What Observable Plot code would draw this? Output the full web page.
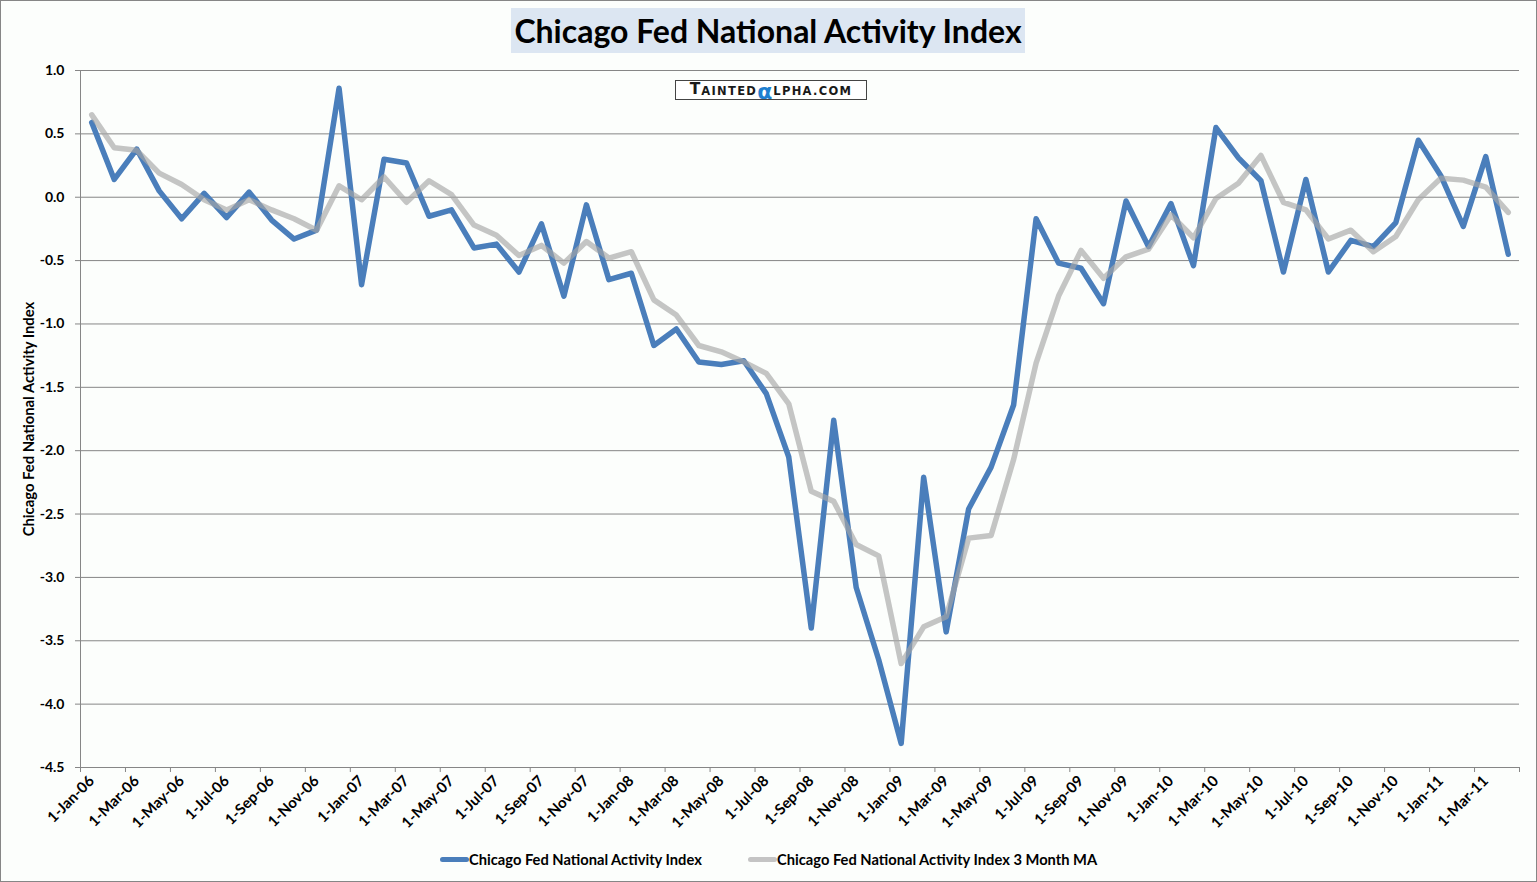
<!DOCTYPE html>
<html><head><meta charset="utf-8">
<script src="https://cdn.jsdelivr.net/npm/d3@7"></script>
<script src="https://cdn.jsdelivr.net/npm/@observablehq/plot@0.6"></script>
<style>
body{margin:0;background:#fff;}
#wrap{position:relative;width:1537px;height:882px;background:#FCFEFC;overflow:hidden;font-family:Lato,"Open Sans",sans-serif;}
#chart{position:absolute;left:0;top:0;}
#frame{position:absolute;left:0;top:0;width:1537px;height:882px;box-sizing:border-box;border:1px solid #868686;pointer-events:none;}
#title{position:absolute;left:511px;top:8px;width:514px;height:45px;background:#DCE6F2;font-weight:bold;font-size:32px;line-height:46px;text-align:center;color:#000;white-space:nowrap;}
#logo{position:absolute;left:675px;top:80px;width:192px;height:20px;box-sizing:border-box;border:1px solid #444;background:#fff;display:flex;align-items:flex-end;justify-content:center;font-family:"DejaVu Sans",sans-serif;font-weight:bold;color:#1a1a1a;white-space:nowrap;line-height:1;padding-bottom:2px;}
#logo .c{font-size:15.5px;letter-spacing:1px;}
#logo .s{font-size:11.5px;letter-spacing:1.3px;}
#logo .a{font-size:22px;font-weight:bold;color:#1E7FD0;margin:0 1px -3px 0;line-height:16px;}
#ytitle{position:absolute;left:28px;top:419px;transform:translate(-50%,-50%) rotate(-90deg);font-weight:bold;font-size:14.8px;white-space:nowrap;color:#000;}
.leg{position:absolute;top:850px;height:18px;display:flex;align-items:center;font-weight:bold;font-size:14.7px;color:#000;white-space:nowrap;}
.leg .sw{width:29px;height:5px;border-radius:3px;margin-right:0;}
</style></head>
<body>
<div id="wrap">
  <div id="chart"></div>
  <div id="title">Chicago Fed National Activity Index</div>
  <div id="logo"><span class="c">T</span><span class="s">AINTED</span><span class="a">α</span><span class="s">LPHA.COM</span></div>
  <div id="ytitle">Chicago Fed National Activity Index</div>
  <div class="leg" style="left:440px"><span class="sw" style="background:#4A7EBB"></span>Chicago Fed National Activity Index</div>
  <div class="leg" style="left:748px"><span class="sw" style="background:#C4C4C4"></span>Chicago Fed National Activity Index 3 Month MA</div>
  <div id="frame"></div>
</div>
<script>
const months = ["Jan-06","Feb-06","Mar-06","Apr-06","May-06","Jun-06","Jul-06","Aug-06","Sep-06","Oct-06","Nov-06","Dec-06",
"Jan-07","Feb-07","Mar-07","Apr-07","May-07","Jun-07","Jul-07","Aug-07","Sep-07","Oct-07","Nov-07","Dec-07",
"Jan-08","Feb-08","Mar-08","Apr-08","May-08","Jun-08","Jul-08","Aug-08","Sep-08","Oct-08","Nov-08","Dec-08",
"Jan-09","Feb-09","Mar-09","Apr-09","May-09","Jun-09","Jul-09","Aug-09","Sep-09","Oct-09","Nov-09","Dec-09",
"Jan-10","Feb-10","Mar-10","Apr-10","May-10","Jun-10","Jul-10","Aug-10","Sep-10","Oct-10","Nov-10","Dec-10",
"Jan-11","Feb-11","Mar-11","Apr-11"];

const cfnai = [0.59,0.14,0.38,0.05,-0.17,0.03,-0.16,0.04,-0.18,-0.33,-0.26,0.86,
-0.69,0.30,0.27,-0.15,-0.10,-0.40,-0.37,-0.59,-0.21,-0.78,-0.06,-0.65,
-0.60,-1.17,-1.04,-1.30,-1.32,-1.29,-1.55,-2.05,-3.40,-1.76,-3.08,-3.65,
-4.31,-2.21,-3.43,-2.46,-2.13,-1.64,-0.17,-0.52,-0.56,-0.84,-0.03,-0.39,
-0.05,-0.54,0.55,0.31,0.13,-0.59,0.14,-0.59,-0.34,-0.39,-0.20,0.45,
0.17,-0.23,0.32,-0.45];

const cfnaiMA3 = [0.65,0.39,0.37,0.19,0.10,-0.02,-0.10,-0.02,-0.10,-0.17,-0.26,0.09,
-0.02,0.16,-0.04,0.13,0.02,-0.22,-0.30,-0.46,-0.38,-0.52,-0.35,-0.48,
-0.43,-0.81,-0.93,-1.17,-1.22,-1.30,-1.39,-1.63,-2.32,-2.40,-2.74,-2.83,
-3.68,-3.39,-3.31,-2.69,-2.67,-2.07,-1.31,-0.78,-0.42,-0.64,-0.47,-0.41,
-0.14,-0.32,-0.01,0.11,0.33,-0.04,-0.10,-0.33,-0.26,-0.43,-0.31,-0.02,
0.15,0.135,0.08,-0.12];

const xTickLabels = ["1-Jan-06","1-Mar-06","1-May-06","1-Jul-06","1-Sep-06","1-Nov-06",
"1-Jan-07","1-Mar-07","1-May-07","1-Jul-07","1-Sep-07","1-Nov-07",
"1-Jan-08","1-Mar-08","1-May-08","1-Jul-08","1-Sep-08","1-Nov-08",
"1-Jan-09","1-Mar-09","1-May-09","1-Jul-09","1-Sep-09","1-Nov-09",
"1-Jan-10","1-Mar-10","1-May-10","1-Jul-10","1-Sep-10","1-Nov-10",
"1-Jan-11","1-Mar-11"];

const yTicks = [1.0,0.5,0.0,-0.5,-1.0,-1.5,-2.0,-2.5,-3.0,-3.5,-4.0,-4.5];

const rows = months.map((m, i) => ({i, month: m, v: cfnai[i], ma: cfnaiMA3[i]}));
const labelPos = xTickLabels.map((_, k) => 2 * k);
const boundaryPos = d3.range(0, 33).map(k => 2 * k - 0.5);

const chart = Plot.plot({
  width: 1537, height: 882,
  marginLeft: 80, marginRight: 18, marginTop: 70, marginBottom: 115,
  style: {background: "transparent", fontFamily: "Lato, 'Open Sans', sans-serif", fontSize: "14px", fontWeight: "bold", color: "#000", overflow: "visible"},
  x: {type: "linear", domain: [-0.5, 63.5]},
  y: {domain: [-4.5, 1.0]},
  marks: [
    Plot.ruleY(yTicks, {stroke: "#868686", strokeWidth: 1, strokeOpacity: 1}),
    Plot.ruleX([-0.5], {stroke: "#868686", strokeWidth: 1, strokeOpacity: 1}),
    Plot.axisY({ticks: yTicks, tickFormat: d => d.toFixed(1), tickSize: 5, tickPadding: 11, stroke: "#868686", strokeOpacity: 1, label: null, fontSize: 14, fontWeight: "bold"}),
    Plot.axisX({ticks: boundaryPos, tickSize: 5, tickFormat: () => "", stroke: "#868686", strokeOpacity: 1, label: null}),
    Plot.axisX({ticks: labelPos, tickSize: 0, tickPadding: 11, tickRotate: -45, tickFormat: i => xTickLabels[i / 2], label: null, fontSize: 15, fontWeight: "bold"}),
    Plot.line(rows, {x: "i", y: "v", stroke: "#4A7EBB", strokeWidth: 5.5, strokeLinejoin: "round", strokeLinecap: "round"}),
    Plot.line(rows, {x: "i", y: "ma", stroke: "#A6A6A6", strokeOpacity: 0.65, strokeWidth: 5.5, strokeLinejoin: "round", strokeLinecap: "round"})
  ]
});
document.getElementById("chart").appendChild(chart);
</script>
</body></html>
